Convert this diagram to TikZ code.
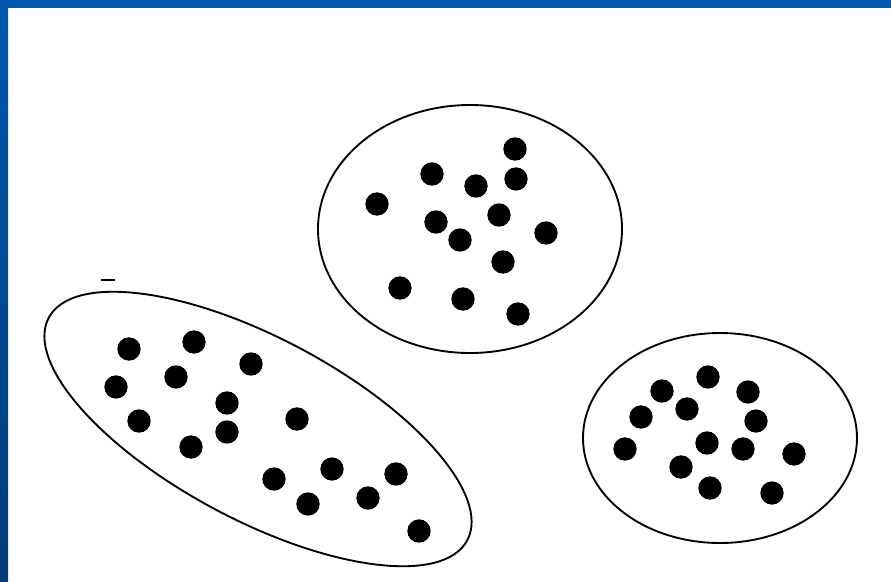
\documentclass[tikz,border=0pt]{standalone}
\usepackage{xcolor}
\usetikzlibrary{positioning}
\definecolor{frameblue}{RGB}{0,88,176}
\definecolor{framedark}{RGB}{0,60,120}
\tikzset{
    dot/.style={circle,fill=black,inner sep=0pt,minimum size=0.7cm},
    cluster/.style={line width=1.6pt},
    speck/.style={line width=1.8pt}
}

\begin{document}
\begin{tikzpicture}[x=0.03cm,y=-0.03cm]
\useasboundingbox (0,0) rectangle (891,581);
\fill[white] (0,0) rectangle (891,581);
% frame
\fill[frameblue] (0,0) rectangle (891,8);
\shade[top color=frameblue, bottom color=framedark] (0,0) rectangle (8,581);

% top cluster
\draw[cluster] (470,229) ellipse [x radius=152, y radius=124];
\node[dot] (t1) at (515,149) {};
\node[dot] (t2) at (432,174) {};
\node[dot] (t3) at (476,186) {};
\node[dot] (t4) at (516,179) {};
\node[dot] (t5) at (377,204) {};
\node[dot] (t6) at (499,215) {};
\node[dot] (t7) at (436,222) {};
\node[dot] (t8) at (460,240) {};
\node[dot] (t9) at (546,233) {};
\node[dot] (t10) at (503,262) {};
\node[dot] (t11) at (400,288) {};
\node[dot] (t12) at (463,299) {};
\node[dot] (t13) at (518,314) {};

% long cluster
\draw[cluster, rotate around={-28:(258,429)}] (258,429) ellipse [x radius=237, y radius=91];
\node[dot] (l1) at (129,349) {};
\node[dot] (l2) at (194,342) {};
\node[dot] (l3) at (251,364) {};
\node[dot] (l4) at (116,387) {};
\node[dot] (l5) at (176,377) {};
\node[dot] (l6) at (227,403) {};
\node[dot] (l7) at (139,421) {};
\node[dot] (l8) at (297,419) {};
\node[dot] (l9) at (227,432) {};
\node[dot] (l10) at (191,447) {};
\node[dot] (l11) at (274,479) {};
\node[dot] (l12) at (332,469) {};
\node[dot] (l13) at (396,474) {};
\node[dot] (l14) at (308,504) {};
\node[dot] (l15) at (368,498) {};
\node[dot] (l16) at (419,531) {};
\draw[speck] (101,280) -- (115,280);

% right cluster
\draw[cluster] (720,438) ellipse [x radius=137, y radius=105];
\node[dot] (r1) at (708,377) {};
\node[dot] (r2) at (662,391) {};
\node[dot] (r3) at (748,392) {};
\node[dot] (r4) at (687,409) {};
\node[dot] (r5) at (641,417) {};
\node[dot] (r6) at (756,421) {};
\node[dot] (r7) at (625,449) {};
\node[dot] (r8) at (707,443) {};
\node[dot] (r9) at (743,449) {};
\node[dot] (r10) at (794,454) {};
\node[dot] (r11) at (681,467) {};
\node[dot] (r12) at (710,488) {};
\node[dot] (r13) at (772,493) {};
\end{tikzpicture}
\end{document}
